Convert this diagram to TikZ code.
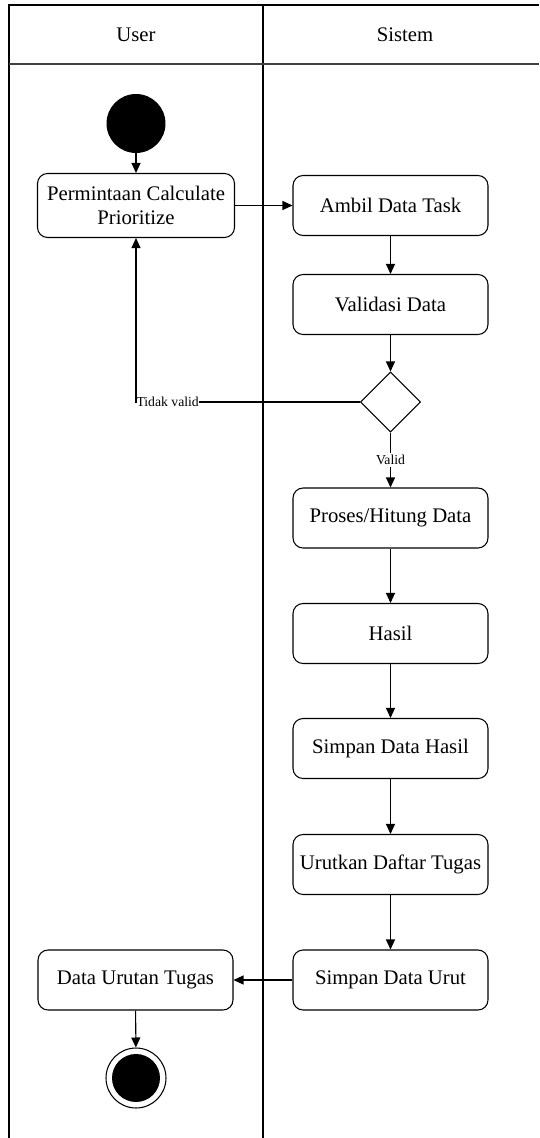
\documentclass[tikz,border=0pt]{standalone}
\usepackage{fontspec}
\setmainfont{Liberation Serif}
\usetikzlibrary{shapes.geometric,arrows.meta,positioning,calc}

\begin{document}
\begin{tikzpicture}[x=0.02cm,y=-0.02cm,
    act/.style={draw, line width=0.6pt, rounded corners=0.2cm, minimum width=3.9cm, minimum height=1.2cm, inner sep=0pt, align=center, font=\fontsize{11.8}{13.7}\selectfont},
    flow/.style={line width=0.6pt, -{Triangle[length=2mm,width=1.8mm]}},
    lbl/.style={fill=white, inner sep=1pt, font=\fontsize{7.8}{9}\selectfont},
    lane/.style={line width=1pt}]
    \useasboundingbox (0,0) rectangle (539,1138);

    % Lanes
    \draw[lane] (9,1138) -- (9,5) -- (539,5);
    \draw[lane] (263,5) -- (263,1138);
    \draw[line width=0.8pt, black!75] (9,64) -- (539,64);
    \node[font=\fontsize{11.8}{13.7}\selectfont] (user) at (136,35) {User};
    \node[font=\fontsize{11.8}{13.7}\selectfont] (sistem) at (405,35) {Sistem};

    % Actions
    \node[circle, fill=black, minimum size=1.18cm, inner sep=0pt] (start) at (136,123.5) {};
    \node[act, minimum width=3.94cm, minimum height=1.28cm] (req) at (136,205.5) {Permintaan Calculate\\Prioritize};
    \node[act] (ambil) at (390.5,205.5) {Ambil Data Task};
    \node[act] (validasi) at (390.5,304.5) {Validasi Data};
    \node[diamond, draw, line width=0.6pt, minimum size=1.2cm, inner sep=0pt] (cek) at (390.5,402) {};
    \node[act] (proses) at (390.5,518) {Proses/Hitung Data};
    \node[act] (hasil) at (390.5,633.5) {Hasil};
    \node[act] (simpanhasil) at (390.5,748.5) {Simpan Data Hasil};
    \node[act] (urutkan) at (390.5,864.5) {Urutkan Daftar Tugas};
    \node[act] (simpanurut) at (390.5,980) {Simpan Data Urut};
    \node[act] (dataurut) at (135.5,980) {Data Urutan Tugas};
    \node[circle, draw, line width=0.6pt, minimum size=1.2cm, inner sep=0pt] (stop) at (136,1078) {};
    \fill (stop.center) circle (0.48cm);

    % Flows
    \draw[flow] (start) -- (req);
    \draw[flow] (req) -- (ambil);
    \draw[flow] (ambil) -- (validasi);
    \draw[flow] (validasi) -- (cek);
    \draw[flow] (cek) -- node[lbl] {Valid} (proses);
    \draw[flow] (cek.west) -- (req.south |- cek.west) node[lbl, anchor=west, inner xsep=0pt] {Tidak valid} -- (req.south);
    \draw[flow] (proses) -- (hasil);
    \draw[flow] (hasil) -- (simpanhasil);
    \draw[flow] (simpanhasil) -- (urutkan);
    \draw[flow] (urutkan) -- (simpanurut);
    \draw[flow] (simpanurut) -- (dataurut);
    \draw[flow] (dataurut) -- (stop);
\end{tikzpicture}
\end{document}
